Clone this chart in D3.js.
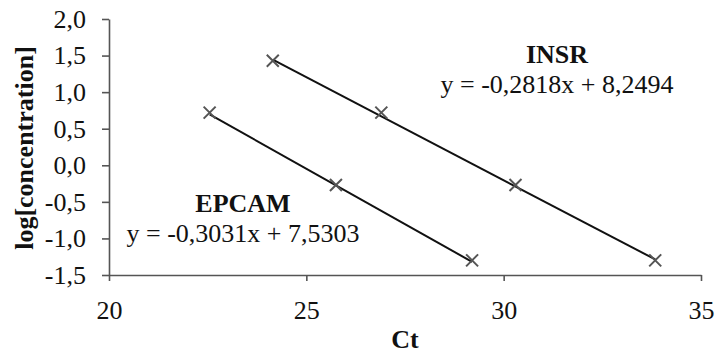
<!DOCTYPE html>
<html>
<head>
<meta charset="utf-8">
<script src="https://cdn.jsdelivr.net/npm/d3@7"></script>
<style>
  body { margin: 0; background: #fff; }
  text { font-family: "Liberation Serif", "Times New Roman", serif; }
</style>
</head>
<body>
<svg id="chart" width="715" height="355"></svg>
<script>
// data
var seriesNames = ["INSR", "EPCAM"];
var insrCt = [24.15, 26.9, 30.3, 33.84];
var insrLog = [1.43, 0.72, -0.27, -1.3];
var epcamCt = [22.55, 25.75, 29.2];
var epcamLog = [0.72, -0.27, -1.3];
var slopes = [-0.2818, -0.3031];
var intercepts = [8.2494, 7.5303];
var equations = ["y = -0,2818x + 8,2494", "y = -0,3031x + 7,5303"];
var xTicks = [20, 25, 30, 35];
var yTicks = [-1.5, -1.0, -0.5, 0.0, 0.5, 1.0, 1.5, 2.0];

var svg = d3.select("#chart");
var plotLeft = 109, plotRight = 701, plotTop = 19, plotBottom = 275;
var fontSize = "26px";

var x = d3.scaleLinear().domain([20, 35]).range([plotLeft, plotRight]);
var y = d3.scaleLinear().domain([-1.5, 2.0]).range([plotBottom, plotTop]);

var fmt = function(d) { return d3.format(".1f")(d).replace(".", ",").replace("−", "-"); };

var axisColor = "#555";

var gx = svg.append("g")
  .attr("transform", "translate(0," + plotBottom + ")")
  .call(d3.axisBottom(x).tickValues(xTicks).tickSize(6).tickSizeOuter(0).tickPadding(20).tickFormat(d3.format("d")));
var gy = svg.append("g")
  .attr("transform", "translate(" + plotLeft + ",0)")
  .call(d3.axisLeft(y).tickValues(yTicks).tickSize(7).tickSizeOuter(0).tickPadding(16).tickFormat(fmt));

[gx, gy].forEach(function(g) {
  g.selectAll("path, line").attr("stroke", axisColor).attr("stroke-width", 1.6);
  g.selectAll("text")
    .attr("fill", "#111")
    .style("font-size", fontSize)
    .style("font-family", "Liberation Serif");
});
gy.selectAll("text").attr("dy", "0.32em");

// axis titles
svg.append("text")
  .attr("x", (plotLeft + plotRight) / 2).attr("y", 348)
  .attr("text-anchor", "middle")
  .style("font-size", fontSize).style("font-weight", "bold")
  .attr("fill", "#111")
  .text("Ct");
svg.append("text")
  .attr("transform", "translate(33,148) rotate(-90)")
  .attr("text-anchor", "middle")
  .style("font-size", fontSize).style("font-weight", "bold")
  .attr("fill", "#111")
  .text("log[concentration]");

var series = [
  { ct: insrCt, log: insrLog },
  { ct: epcamCt, log: epcamLog }
];

series.forEach(function(s, i) {
  var pts = s.ct.map(function(c, j) { return [c, s.log[j]]; });
  var x0 = d3.min(s.ct), x1 = d3.max(s.ct);
  // linear trend line
  svg.append("line")
    .attr("x1", x(x0)).attr("y1", y(slopes[i] * x0 + intercepts[i]))
    .attr("x2", x(x1)).attr("y2", y(slopes[i] * x1 + intercepts[i]))
    .attr("stroke", "#111").attr("stroke-width", 2);
  // x markers
  svg.append("g").selectAll("path").data(pts).enter().append("path")
    .attr("d", function(d) {
      var cx = x(d[0]), cy = y(d[1]), r = 6;
      return "M" + (cx - r) + "," + (cy - r) + "L" + (cx + r) + "," + (cy + r) +
             "M" + (cx - r) + "," + (cy + r) + "L" + (cx + r) + "," + (cy - r);
    })
    .attr("stroke", "#555").attr("stroke-width", 2).attr("fill", "none");
});

// series labels with equations
var labelPos = [[557, 63], [243, 212]];
labelPos.forEach(function(p, i) {
  svg.append("text")
    .attr("x", p[0]).attr("y", p[1])
    .attr("text-anchor", "middle")
    .style("font-size", fontSize).style("font-weight", "bold")
    .attr("fill", "#111")
    .text(seriesNames[i]);
  svg.append("text")
    .attr("x", p[0]).attr("y", p[1] + 30)
    .attr("text-anchor", "middle")
    .style("font-size", fontSize)
    .attr("fill", "#111")
    .text(equations[i]);
});
</script>
</body>
</html>
